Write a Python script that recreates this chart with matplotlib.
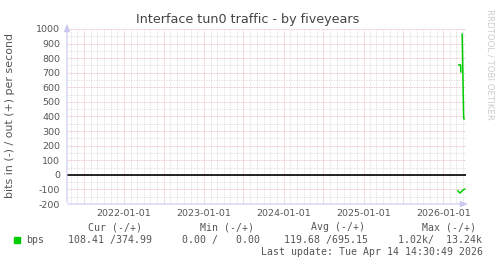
import matplotlib
matplotlib.use("Agg")
import matplotlib.pyplot as plt
import numpy as np
import pandas as pd

# ---- data ----
out_dates = ["2026-03-13", "2026-03-21", "2026-03-22", "2026-03-24",
             "2026-03-28", "2026-04-04", "2026-04-06"]
out_values = [754, 754, 706, np.nan, 965, 384, 384]
in_dates = ["2026-03-09", "2026-03-18", "2026-03-27", "2026-04-05", "2026-04-09"]
in_values = [-110, -125, -112, -100, -98]

x_start = "2021-04-14 14:30"
x_end = "2026-04-14 14:30"
year_ticks = ["2022-01-01", "2023-01-01", "2024-01-01", "2025-01-01", "2026-01-01"]
y_ticks = [-200, -100, 0, 100, 200, 300, 400, 500, 600, 700, 800, 900, 1000]

title = "Interface tun0 traffic - by fiveyears"
ylabel = "bits in (-) / out (+) per second"
series_name = "bps"
headers = ["Cur (-/+)", "Min (-/+)", "Avg (-/+)", "Max (-/+)"]
values = ["108.41 /374.99", "0.00 /   0.00", "119.68 /695.15", "1.02k/  13.24k"]
last_update = "Last update: Tue Apr 14 14:30:49 2026"
watermark = "RRDTOOL / TOBI OETIKER"

GREEN = "#00cc00"
TXT = "#555555"
AXC = "#c8c8f0"

W, H = 497, 264
fig = plt.figure(figsize=(W / 100, H / 100), dpi=100)
fig.patch.set_facecolor("white")

left, right, top, bottom = 67, 466, 29, 204
ax = fig.add_axes([left / W, 1 - bottom / H, (right - left) / W, (bottom - top) / H])
ax.set_facecolor("white")

xs = pd.to_datetime(x_start)
xe = pd.to_datetime(x_end)
ax.set_xlim(xs, xe)
ax.set_ylim(-200, 1000)

# grids
months = pd.date_range("2021-05-01", "2026-04-01", freq="MS")
for m in months:
    major = m.month in (1, 7)
    ax.axvline(m, color="#e8b0b0" if major else "#d8d8d8", lw=0.6,
               ls=(0, (1, 1)), zorder=1)
for yv in range(-200, 1001, 50):
    major = yv % 100 == 0
    ax.axhline(yv, color="#e8b0b0" if major else "#d8d8d8", lw=0.6,
               ls=(0, (1, 1)), zorder=1)

# zero line
ax.axhline(0, color="black", lw=1.2, zorder=3)

# data
ax.plot(pd.to_datetime(out_dates), out_values, color=GREEN, lw=1.1, zorder=4)
ax.plot(pd.to_datetime(in_dates), in_values, color=GREEN, lw=1.1, zorder=4)

for s in ax.spines.values():
    s.set_visible(False)

ax.set_xticks(pd.to_datetime(year_ticks))
ax.set_xticklabels(year_ticks)
ax.set_yticks(y_ticks)
ax.set_yticklabels([str(v) for v in y_ticks])
ax.tick_params(axis="both", length=0, labelsize=6.8, colors=TXT)
ax.tick_params(axis="y", pad=5)
ax.tick_params(axis="x", pad=3.5)

# axis arrows
ax.annotate("", xy=(1.012, 0), xytext=(-0.005, 0), xycoords="axes fraction",
            arrowprops=dict(arrowstyle="-|>,head_length=0.45,head_width=0.18",
                            color=AXC, lw=0.8), annotation_clip=False)
ax.annotate("", xy=(0, 1.045), xytext=(0, -0.005), xycoords="axes fraction",
            arrowprops=dict(arrowstyle="-|>,head_length=0.45,head_width=0.18",
                            color=AXC, lw=0.8), annotation_clip=False)

# titles
fig.text(248 / W, 1 - 20 / H, title, ha="center", va="center", fontsize=9.2, color="#444444")
fig.text(10 / W, 1 - 116 / H, ylabel, ha="center", va="center", rotation=90,
         fontsize=7.9, color=TXT)
fig.text(490 / W, 1 - 9 / H, watermark, ha="center", va="top", rotation=270,
         fontsize=6.2, color="#cccccc")

# legend
mono = "DejaVu Sans Mono"
hdr_right = [142, 254, 365, 476]
val_right = [152, 260, 368, 482]
for h, xr in zip(headers, hdr_right):
    fig.text(xr / W, 1 - 227 / H, h, ha="right", va="center", fontsize=7.1,
             family=mono, color=TXT)
for v, xr in zip(values, val_right):
    fig.text(xr / W, 1 - 240 / H, v, ha="right", va="center", fontsize=7.1,
             family=mono, color=TXT)
fig.patches.append(plt.Rectangle((14 / W, 1 - 243 / H), 6 / W, 6 / H,
                                 transform=fig.transFigure, color=GREEN))
fig.text(26 / W, 1 - 240 / H, series_name, ha="left", va="center", fontsize=7.1,
         family=mono, color=TXT)
fig.text(483 / W, 1 - 252 / H, last_update, ha="right", va="center", fontsize=7.1,
         family=mono, color=TXT)

fig.savefig("out.png", dpi=100, facecolor="white")
